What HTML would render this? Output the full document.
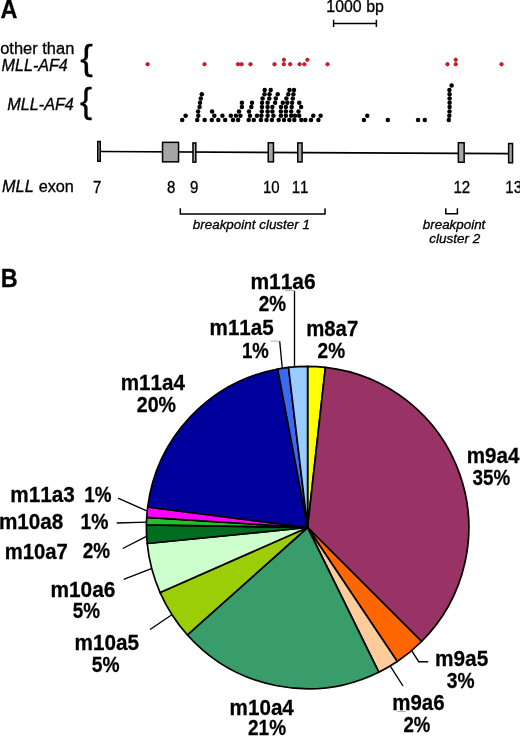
<!DOCTYPE html>
<html><head><meta charset="utf-8"><title>Figure</title>
<style>
html,body{margin:0;padding:0;background:#fff}
body{width:520px;height:737px;overflow:hidden}
svg{display:block}
text{font-family:"Liberation Sans",Arial,Helvetica,sans-serif;fill:#000;font-kerning:none;stroke:#000;stroke-width:0.3px}
.b{font-weight:bold;stroke:#000;stroke-width:0.25px}
.i{font-style:italic}
.bi{font-weight:bold;font-style:italic}
</style></head><body>
<svg width="520" height="737" viewBox="0 0 520 737">
<rect width="520" height="737" fill="#fff"/>
<!-- scale bar -->
<g stroke="#000" stroke-width="1.2" fill="none">
<path d="M333.6 23.5H376.4M333.6 19.7V27M376.4 19.7V27" stroke-width="1.5"/>
<!-- gene line -->
<path d="M100 151.5L510 153.7" stroke-width="1.7"/>
<!-- cluster brackets -->
<path d="M180.3 208.2V213.9H325V208.2" stroke-width="1.5"/>
<path d="M445.8 208.3V213.7H457.4V208.3" stroke-width="1.5"/>
</g>
<g fill="#a6a6a6" stroke="#000" stroke-width="1.5"><rect x="97.75" y="141.55" width="2.50" height="19.70"/><rect x="162.55" y="142.35" width="16.00" height="19.50"/><rect x="192.95" y="142.95" width="2.90" height="19.20"/><rect x="268.25" y="142.75" width="5.20" height="19.10"/><rect x="297.75" y="142.95" width="4.30" height="19.00"/><rect x="458.35" y="142.75" width="5.80" height="19.50"/><rect x="508.65" y="143.55" width="3.90" height="19.20"/></g>
<g fill="#000"><circle cx="182.2" cy="120.0" r="2.25"/><circle cx="185.6" cy="115.7" r="2.25"/><circle cx="197.2" cy="120.0" r="2.25"/><circle cx="198.3" cy="115.7" r="2.25"/><circle cx="198.1" cy="111.4" r="2.25"/><circle cx="199.6" cy="107.1" r="2.25"/><circle cx="200.0" cy="102.8" r="2.25"/><circle cx="200.8" cy="98.5" r="2.25"/><circle cx="201.8" cy="94.2" r="2.25"/><circle cx="204.7" cy="120.0" r="2.25"/><circle cx="211.8" cy="120.0" r="2.25"/><circle cx="214.3" cy="115.7" r="2.25"/><circle cx="212.1" cy="111.4" r="2.25"/><circle cx="218.3" cy="120.0" r="2.25"/><circle cx="222.4" cy="115.7" r="2.25"/><circle cx="225.2" cy="120.0" r="2.25"/><circle cx="230.8" cy="115.7" r="2.25"/><circle cx="233.0" cy="120.0" r="2.25"/><circle cx="235.9" cy="115.7" r="2.25"/><circle cx="238.1" cy="120.0" r="2.25"/><circle cx="240.4" cy="115.7" r="2.25"/><circle cx="239.0" cy="111.4" r="2.25"/><circle cx="241.9" cy="107.1" r="2.25"/><circle cx="241.9" cy="102.8" r="2.25"/><circle cx="248.7" cy="120.0" r="2.25"/><circle cx="250.0" cy="115.7" r="2.25"/><circle cx="249.0" cy="111.4" r="2.25"/><circle cx="251.3" cy="107.1" r="2.25"/><circle cx="252.0" cy="102.8" r="2.25"/><circle cx="253.8" cy="120.0" r="2.25"/><circle cx="257.0" cy="115.7" r="2.25"/><circle cx="260.9" cy="120.0" r="2.25"/><circle cx="261.4" cy="115.7" r="2.25"/><circle cx="261.8" cy="111.4" r="2.25"/><circle cx="262.0" cy="107.1" r="2.25"/><circle cx="262.0" cy="102.8" r="2.25"/><circle cx="262.6" cy="98.5" r="2.25"/><circle cx="264.5" cy="94.2" r="2.25"/><circle cx="264.7" cy="89.9" r="2.25"/><circle cx="266.5" cy="120.0" r="2.25"/><circle cx="267.6" cy="115.7" r="2.25"/><circle cx="267.6" cy="111.4" r="2.25"/><circle cx="267.6" cy="107.1" r="2.25"/><circle cx="267.6" cy="102.8" r="2.25"/><circle cx="269.3" cy="98.5" r="2.25"/><circle cx="269.5" cy="94.2" r="2.25"/><circle cx="270.7" cy="89.9" r="2.25"/><circle cx="271.9" cy="120.0" r="2.25"/><circle cx="273.4" cy="115.7" r="2.25"/><circle cx="272.4" cy="111.4" r="2.25"/><circle cx="272.4" cy="107.1" r="2.25"/><circle cx="275.1" cy="102.8" r="2.25"/><circle cx="275.8" cy="98.5" r="2.25"/><circle cx="277.7" cy="94.2" r="2.25"/><circle cx="278.7" cy="120.0" r="2.25"/><circle cx="280.9" cy="115.7" r="2.25"/><circle cx="280.9" cy="111.4" r="2.25"/><circle cx="281.0" cy="107.1" r="2.25"/><circle cx="282.8" cy="102.8" r="2.25"/><circle cx="284.0" cy="120.0" r="2.25"/><circle cx="285.9" cy="115.7" r="2.25"/><circle cx="285.9" cy="111.4" r="2.25"/><circle cx="285.9" cy="107.1" r="2.25"/><circle cx="287.3" cy="102.8" r="2.25"/><circle cx="286.4" cy="98.5" r="2.25"/><circle cx="288.3" cy="94.2" r="2.25"/><circle cx="289.5" cy="89.9" r="2.25"/><circle cx="289.3" cy="120.0" r="2.25"/><circle cx="291.2" cy="115.7" r="2.25"/><circle cx="291.2" cy="111.4" r="2.25"/><circle cx="291.7" cy="107.1" r="2.25"/><circle cx="292.1" cy="102.8" r="2.25"/><circle cx="292.8" cy="98.5" r="2.25"/><circle cx="293.4" cy="94.2" r="2.25"/><circle cx="294.0" cy="89.9" r="2.25"/><circle cx="294.3" cy="120.0" r="2.25"/><circle cx="295.0" cy="115.7" r="2.25"/><circle cx="299.2" cy="115.7" r="2.25"/><circle cx="298.5" cy="111.4" r="2.25"/><circle cx="301.1" cy="107.1" r="2.25"/><circle cx="299.3" cy="102.8" r="2.25"/><circle cx="301.3" cy="120.0" r="2.25"/><circle cx="305.4" cy="120.0" r="2.25"/><circle cx="311.0" cy="120.0" r="2.25"/><circle cx="313.3" cy="115.7" r="2.25"/><circle cx="318.4" cy="120.0" r="2.25"/><circle cx="320.6" cy="115.7" r="2.25"/><circle cx="363.9" cy="120.0" r="2.25"/><circle cx="367.3" cy="115.7" r="2.25"/><circle cx="387.8" cy="120.0" r="2.25"/><circle cx="418.0" cy="120.0" r="2.25"/><circle cx="424.8" cy="120.0" r="2.25"/><circle cx="448.8" cy="120.0" r="2.25"/><circle cx="449.3" cy="115.7" r="2.25"/><circle cx="449.5" cy="111.4" r="2.25"/><circle cx="449.6" cy="107.1" r="2.25"/><circle cx="449.6" cy="102.8" r="2.25"/><circle cx="449.6" cy="98.5" r="2.25"/><circle cx="449.6" cy="94.2" r="2.25"/><circle cx="449.4" cy="89.9" r="2.25"/><circle cx="451.6" cy="85.6" r="2.25"/></g>
<g fill="#dc1a26" stroke="#b00c18" stroke-width="0.8"><circle cx="147.6" cy="64.2" r="1.7"/><circle cx="204.5" cy="64.2" r="1.7"/><circle cx="238.0" cy="64.2" r="1.7"/><circle cx="241.6" cy="64.2" r="1.7"/><circle cx="250.5" cy="64.2" r="1.7"/><circle cx="274.5" cy="64.2" r="1.7"/><circle cx="283.8" cy="64.2" r="1.7"/><circle cx="283.9" cy="59.8" r="1.7"/><circle cx="290.2" cy="64.2" r="1.7"/><circle cx="299.6" cy="64.2" r="1.7"/><circle cx="304.4" cy="64.2" r="1.7"/><circle cx="307.4" cy="59.8" r="1.7"/><circle cx="327.5" cy="64.2" r="1.7"/><circle cx="447.4" cy="64.2" r="1.7"/><circle cx="455.7" cy="64.2" r="1.7"/><circle cx="455.7" cy="59.8" r="1.7"/><circle cx="501.5" cy="64.2" r="1.7"/></g>
<!-- braces -->
<text font-size="35.3" stroke="#000" stroke-width="0.6" transform="translate(80.2 69.5) scale(1.07 1)">{</text>
<text font-size="35.3" stroke="#000" stroke-width="0.6" transform="translate(79.9 113) scale(1.03 1)">{</text>
<!-- leaders -->
<g stroke="#000" stroke-width="1.35" fill="none">
<path d="M294.5 290.8V368"/>
<path d="M279.7 341.2L282.3 368.5"/>
<path d="M118 498.2L147.5 511.2"/>
<path d="M116.7 523L147 522.1"/>
<path d="M122.7 548.5L147 536.1"/>
<path d="M123.7 579.3L152 568.3"/>
<path d="M150 629.5L171.5 615"/>
<path d="M410.5 648.8L418.75 661.7H428.2"/>
<path d="M389.5 664.8L403 686"/>
</g>
<g stroke="#999" stroke-width="0.8" fill="none">
<path d="M285.5 290.6H294.5"/>
<path d="M270.4 341.2H279.7"/>
<path d="M397 711.6H405.8"/>
</g>
<!-- pie -->
<g stroke="#000" stroke-width="1.7" stroke-linejoin="round">
<path d="M307.6 527.5L307.60 366.30A161.2 161.2 0 0 1 325.40 367.29Z" fill="#ffff00"/>
<path d="M307.6 527.5L325.40 367.29A161.2 161.2 0 0 1 421.59 641.49Z" fill="#993366"/>
<path d="M307.6 527.5L421.59 641.49A161.2 161.2 0 0 1 397.27 661.45Z" fill="#ff6600"/>
<path d="M307.6 527.5L397.27 661.45A161.2 161.2 0 0 1 378.77 672.14Z" fill="#ffcc99"/>
<path d="M307.6 527.5L378.77 672.14A161.2 161.2 0 0 1 187.43 634.95Z" fill="#389c6b"/>
<path d="M307.6 527.5L187.43 634.95A161.2 161.2 0 0 1 160.11 592.55Z" fill="#9bce06"/>
<path d="M307.6 527.5L160.11 592.55A161.2 161.2 0 0 1 147.20 543.51Z" fill="#ccffcc"/>
<path d="M307.6 527.5L147.20 543.51A161.2 161.2 0 0 1 146.42 524.97Z" fill="#006e1e"/>
<path d="M307.6 527.5L146.42 524.97A161.2 161.2 0 0 1 146.72 517.38Z" fill="#26be26"/>
<path d="M307.6 527.5L146.72 517.38A161.2 161.2 0 0 1 147.71 507.02Z" fill="#ff00ff"/>
<path d="M307.6 527.5L147.71 507.02A161.2 161.2 0 0 1 277.67 369.10Z" fill="#00009c"/>
<path d="M307.6 527.5L277.67 369.10A161.2 161.2 0 0 1 288.51 367.43Z" fill="#3a6af2"/>
<path d="M307.6 527.5L288.51 367.43A161.2 161.2 0 0 1 307.60 366.30Z" fill="#99ccff"/>
</g>
<text class="b" font-size="25.3" transform="translate(0.60 17.80) scale(0.9278 1.041)">A</text>
<text font-size="16" transform="translate(326.30 12.20) scale(0.9958 1.041)">1000 bp</text>
<text font-size="16" transform="translate(0.20 54.00) scale(1.0287 1.041)">other than</text>
<text class="i" font-size="16" transform="translate(1.50 70.90) scale(1.0091 1.041)">MLL-AF4</text>
<text class="i" font-size="16" transform="translate(7.30 110.40) scale(1.0122 1.041)">MLL-AF4</text>
<text class="i" font-size="16" transform="translate(2.10 191.60) scale(1.0157 1.041)">MLL</text>
<text font-size="16" transform="translate(38.70 191.60) scale(1.0149 1.041)">exon</text>
<text font-size="15" transform="translate(93.10 192.90) scale(1.0000 1.041)">7</text>
<text font-size="15" transform="translate(167.00 192.90) scale(1.0000 1.041)">8</text>
<text font-size="15" transform="translate(190.00 192.90) scale(1.0000 1.041)">9</text>
<text font-size="15" transform="translate(262.93 192.90) scale(1.0000 1.041)">10</text>
<text font-size="15" transform="translate(291.73 192.90) scale(1.0000 1.041)">11</text>
<text font-size="15" transform="translate(453.38 192.90) scale(1.0000 1.041)">12</text>
<text font-size="15" transform="translate(505.33 192.90) scale(1.0000 1.041)">13</text>
<text class="i" font-size="12.85" transform="translate(192.80 229.00) scale(1.0452 1.041)">breakpoint cluster 1</text>
<text class="i" font-size="12.85" transform="translate(422.80 229.20) scale(1.0422 1.041)">breakpoint</text>
<text class="i" font-size="12.85" transform="translate(429.20 243.00) scale(1.0496 1.041)">cluster 2</text>
<text class="b" font-size="25.3" transform="translate(0.77 287.40) scale(0.9294 1.041)">B</text>
<text class="b" font-size="20" transform="translate(250.40 289.40) scale(1.0482 1.065)">m11a6</text>
<text class="b" font-size="20" transform="translate(258.75 310.90) scale(0.9443 1.065)">2%</text>
<text class="b" font-size="20" transform="translate(209.62 335.20) scale(1.0302 1.065)">m11a5</text>
<text class="b" font-size="20" transform="translate(242.02 357.50) scale(0.9281 1.065)">1%</text>
<text class="b" font-size="20" transform="translate(306.23 335.50) scale(1.0174 1.065)">m8a7</text>
<text class="b" font-size="20" transform="translate(317.55 357.50) scale(0.9511 1.065)">2%</text>
<text class="b" font-size="20" transform="translate(120.72 390.20) scale(1.0313 1.065)">m11a4</text>
<text class="b" font-size="20" transform="translate(136.75 411.70) scale(0.9815 1.065)">20%</text>
<text class="b" font-size="20" transform="translate(10.31 501.60) scale(1.0368 1.065)">m11a3</text>
<text class="b" font-size="20" transform="translate(84.21 501.60) scale(0.9423 1.065)">1%</text>
<text class="b" font-size="20" transform="translate(-1.09 528.90) scale(1.0351 1.065)">m10a8</text>
<text class="b" font-size="20" transform="translate(80.48 528.90) scale(0.9672 1.065)">1%</text>
<text class="b" font-size="20" transform="translate(4.74 559.20) scale(1.0139 1.065)">m10a7</text>
<text class="b" font-size="20" transform="translate(82.75 557.70) scale(0.9443 1.065)">2%</text>
<text class="b" font-size="20" transform="translate(50.41 596.50) scale(1.0433 1.065)">m10a6</text>
<text class="b" font-size="20" transform="translate(72.65 618.10) scale(0.9443 1.065)">5%</text>
<text class="b" font-size="20" transform="translate(74.61 649.70) scale(1.0351 1.065)">m10a5</text>
<text class="b" font-size="20" transform="translate(91.75 672.00) scale(0.9614 1.065)">5%</text>
<text class="b" font-size="20" transform="translate(229.62 714.70) scale(1.0313 1.065)">m10a4</text>
<text class="b" font-size="20" transform="translate(248.05 735.00) scale(0.9492 1.065)">21%</text>
<text class="b" font-size="20" transform="translate(466.72 463.20) scale(1.0288 1.065)">m9a4</text>
<text class="b" font-size="20" transform="translate(472.45 485.30) scale(0.9417 1.065)">35%</text>
<text class="b" font-size="20" transform="translate(435.01 666.20) scale(1.0414 1.065)">m9a5</text>
<text class="b" font-size="20" transform="translate(446.75 688.10) scale(0.9614 1.065)">3%</text>
<text class="b" font-size="20" transform="translate(392.23 710.00) scale(1.0234 1.065)">m9a6</text>
<text class="b" font-size="20" transform="translate(403.45 731.50) scale(0.9305 1.065)">2%</text>
</svg>
</body></html>
